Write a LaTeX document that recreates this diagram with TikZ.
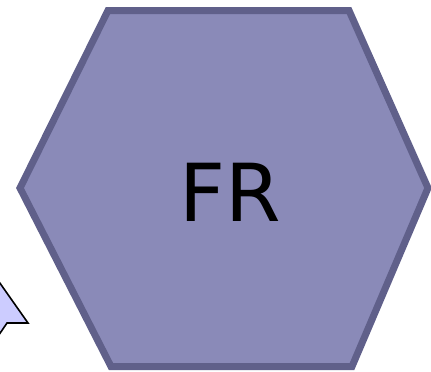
\documentclass[tikz,border=0pt]{standalone}
\usepackage{fontspec}
\setmainfont{DejaVu Sans}
\definecolor{hexfill}{RGB}{138,138,184}
\definecolor{hexline}{RGB}{96,96,138}
\definecolor{arrfill}{RGB}{204,204,255}
\tikzset{
  hexshape/.style={fill=hexfill, draw=hexline, line width=7pt, line join=miter},
  arrshape/.style={fill=arrfill, draw=black, line width=1.6pt, line join=miter},
}
\begin{document}
\begin{tikzpicture}[x=1pt,y=-1pt]
\useasboundingbox (0,0) rectangle (431,372);
\clip (0,0) rectangle (431,372);
\draw[arrshape] (-10,269) -- (28,323) -- (7,323) -- (-8,345) -- (-20,345) -- (-20,269) -- cycle;
\draw[hexshape] (108,10.5) -- (349,10.5) -- (428,188) -- (352,366.5) -- (111,366.5) -- (20,188) -- cycle;
\node[font=\fontsize{80}{82}\selectfont, inner sep=0pt] (fr) at (230.5,192) {FR};
\end{tikzpicture}
\end{document}
